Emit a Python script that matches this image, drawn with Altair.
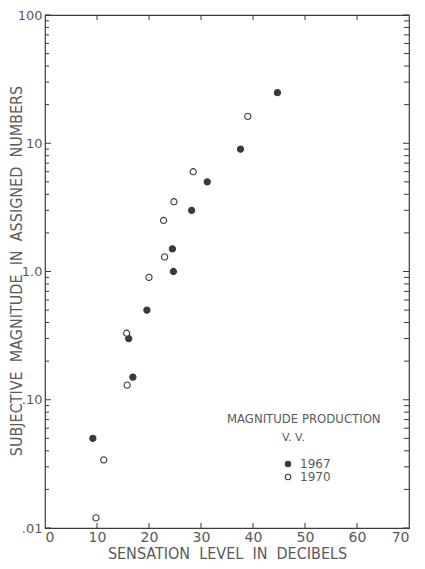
import altair as alt
import pandas as pd

# ---- data ----
x_1967 = [9.2, 16.1, 16.9, 19.6, 24.5, 24.7, 28.2, 31.2, 37.6, 44.7]
y_1967 = [0.05, 0.30, 0.15, 0.50, 1.5, 1.0, 3.0, 5.0, 9.0, 24.8]
x_1970 = [9.8, 11.3, 15.7, 15.8, 20.0, 23.0, 22.8, 24.8, 28.5, 39.0]
y_1970 = [0.012, 0.034, 0.33, 0.13, 0.9, 1.3, 2.5, 3.5, 6.0, 16.2]
series = ["1967", "1970"]
x_ticks = [0, 10, 20, 30, 40, 50, 60, 70]
y_major = [0.01, 0.1, 1, 10, 100]
y_minor = [m * d for d in [0.01, 0.1, 1, 10] for m in range(2, 10)]
x_inner_ticks = [10, 20, 30, 40, 50, 60]
legend_lines = ["MAGNITUDE PRODUCTION", "V. V."]

W, H = 364, 513
INK = "#3a3a3a"
TXT = "#5a5a5a"
FONT = "DejaVu Sans"
TFONT = "Liberation Sans Narrow, DejaVu Sans Condensed, DejaVu Sans"

pts = pd.DataFrame({
    "x": x_1967 + x_1970,
    "y": y_1967 + y_1970,
    "s": [series[0]] * len(x_1967) + [series[1]] * len(x_1970),
})

xs = alt.Scale(domain=[0, 70], nice=False, zero=False)
ys = alt.Scale(type="log", domain=[0.01, 100], nice=False)

nb = "\u00a0"
x_title = f"SENSATION{nb*2}LEVEL{nb*2}IN{nb*2}DECIBELS"
y_title = f"SUBJECTIVE{nb*2}MAGNITUDE{nb*2}IN{nb*2}ASSIGNED{nb*2}NUMBERS"

points = alt.Chart(pts).mark_point(size=38, strokeWidth=1.1, opacity=1).encode(
    x=alt.X("x:Q", scale=xs, axis=alt.Axis(
        values=x_ticks, ticks=False, domain=False, grid=False,
        labelFont=FONT, labelFontSize=14, labelColor=TXT, labelPadding=2,
        title=x_title, titleFont=TFONT, titleFontSize=16, titleFontWeight="normal",
        titleColor=TXT, titlePadding=1)),
    y=alt.Y("y:Q", scale=ys, axis=alt.Axis(
        values=y_major, ticks=False, domain=False, grid=False,
        labelExpr="datum.value >= 100 ? '100' : datum.value >= 10 ? '10' : datum.value >= 1 ? '1.0' : datum.value >= 0.1 ? '.10' : '.01'",
        labelFont=FONT, labelFontSize=13, labelColor=TXT, labelPadding=3,
        title=y_title, titleFont=TFONT, titleFontSize=16, titleFontWeight="normal",
        titleColor=TXT, titleX=-29, titleY=H / 2 - 1, titleBaseline="middle")),
    fill=alt.Fill("s:N", scale=alt.Scale(domain=series, range=[INK, "white"]),
                  legend=alt.Legend(
                      title=None, orient="none", legendX=237, legendY=443,
                      symbolType="circle", symbolSize=30, symbolStrokeColor=INK,
                      symbolStrokeWidth=1.1, labelFont=FONT, labelFontSize=12,
                      labelColor=TXT, rowPadding=1, padding=0, labelOffset=6)),
    stroke=alt.value(INK),
    shape=alt.value("circle"),
)

ymaj = pd.DataFrame({"v": y_major})
ymin = pd.DataFrame({"v": y_minor})
xin = pd.DataFrame({"v": x_inner_ticks})

def yrule(df, x1, x2):
    return alt.Chart(df).mark_rule(color=INK, strokeWidth=1).encode(
        y=alt.Y("v:Q", scale=ys), x=alt.value(x1), x2=alt.value(x2))

def xrule(df, y1, y2):
    return alt.Chart(df).mark_rule(color=INK, strokeWidth=1).encode(
        x=alt.X("v:Q", scale=xs), y=alt.value(y1), y2=alt.value(y2))

ticks = [
    yrule(ymaj, 0, 6), yrule(ymin, 0, 4),
    yrule(ymaj, W, W - 6), yrule(ymin, W, W - 5),
    xrule(xin, 0, 5), xrule(xin, H, H - 5),
]

leg = pd.DataFrame({"t": legend_lines, "i": [0, 1]})
legend_title = alt.Chart(leg).transform_filter("datum.i == 0").mark_text(
    align="left", baseline="middle", font=TFONT, fontSize=13, color=TXT
).encode(text="t:N", x=alt.value(182), y=alt.value(404))
legend_sub = alt.Chart(leg).transform_filter("datum.i == 1").mark_text(
    align="left", baseline="middle", font=FONT, fontSize=11, color=TXT
).encode(text="t:N", x=alt.value(237), y=alt.value(423))

chart = alt.layer(*ticks, points, legend_title, legend_sub).properties(
    width=W, height=H,
    autosize=alt.AutoSizeParams(type="none"),
    padding={"left": 37, "top": 7, "right": 8, "bottom": 33},
    background="white",
).configure_view(stroke=INK, strokeWidth=1.2)

chart.save("out.html", embed_options={"renderer": "svg", "actions": False})
